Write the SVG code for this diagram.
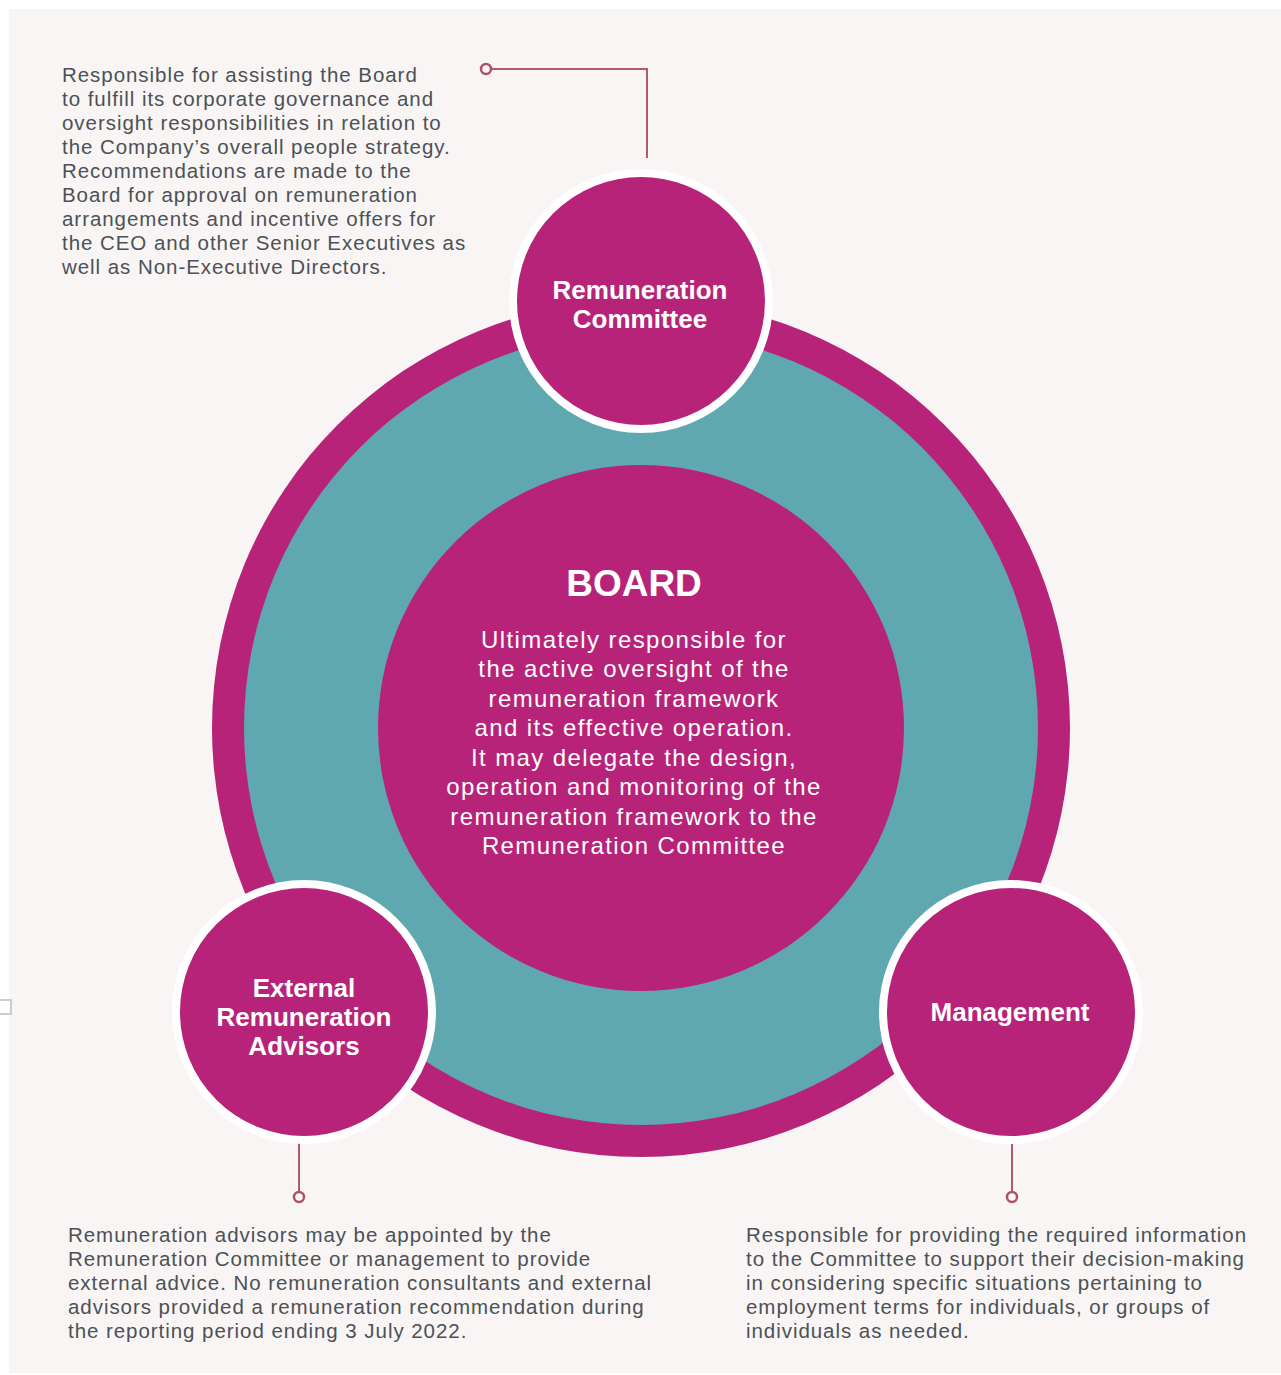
<svg xmlns="http://www.w3.org/2000/svg" width="1281" height="1375" viewBox="0 0 1281 1375">
<style>
.body{font-family:"Liberation Sans",Arial,sans-serif;font-size:20.5px;letter-spacing:0.95px;fill:#4b5157}
.board{font-family:"Liberation Sans",Arial,sans-serif;font-size:24px;letter-spacing:1.4px;fill:#ffffff;text-anchor:middle}
.title{font-family:"Liberation Sans",Arial,sans-serif;font-size:37px;font-weight:bold;fill:#ffffff;text-anchor:middle}
.lbl{font-family:"Liberation Sans",Arial,sans-serif;font-size:26px;font-weight:bold;fill:#ffffff;text-anchor:middle}
.node{fill:#b8237a;stroke:#ffffff;stroke-width:8}
.conn{fill:none;stroke:#b3596f;stroke-width:2}
.dot{fill:#f9f5f4;stroke:#ac5467;stroke-width:2.5}
</style>
<rect x="0" y="0" width="1281" height="1375" fill="#ffffff"/>
<rect x="9" y="9" width="1272" height="1364" fill="#f9f5f4"/>
<rect x="-5" y="1000" width="16" height="14" fill="none" stroke="#cccccc" stroke-width="2"/>
<g id="ring">
<circle cx="641" cy="728" r="429" fill="#b8237a"/>
<circle cx="641" cy="728" r="397" fill="#5fa8b0"/>
</g>
<g id="connectors">
<polyline class="conn" points="491,69 647,69 647,158"/>
<circle class="dot" cx="486" cy="69" r="5"/>
<line class="conn" x1="299" y1="1143" x2="299" y2="1192"/>
<circle class="dot" cx="299" cy="1197" r="5"/>
<line class="conn" x1="1012" y1="1143" x2="1012" y2="1192"/>
<circle class="dot" cx="1012" cy="1197" r="5"/>
</g>
<g id="board">
<circle cx="641" cy="728" r="263" fill="#b8237a"/>
<text class="title" x="634" y="596">BOARD</text>
<text class="board" x="634" y="648">Ultimately responsible for</text>
<text class="board" x="634" y="677">the active oversight of the</text>
<text class="board" x="634" y="707">remuneration framework</text>
<text class="board" x="634" y="736">and its effective operation.</text>
<text class="board" x="634" y="766">It may delegate the design,</text>
<text class="board" x="634" y="795">operation and monitoring of the</text>
<text class="board" x="634" y="825">remuneration framework to the</text>
<text class="board" x="634" y="854">Remuneration Committee</text>
</g>
<g id="remuneration-committee">
<circle class="node" cx="641" cy="301" r="128"/>
<text class="lbl" x="640" y="299">Remuneration</text>
<text class="lbl" x="640" y="328">Committee</text>
</g>
<g id="external-advisors">
<circle class="node" cx="304" cy="1012" r="128"/>
<text class="lbl" x="304" y="997">External</text>
<text class="lbl" x="304" y="1026">Remuneration</text>
<text class="lbl" x="304" y="1055">Advisors</text>
</g>
<g id="management">
<circle class="node" cx="1011" cy="1012" r="128"/>
<text class="lbl" x="1010" y="1021">Management</text>
</g>
<g id="note-committee">
<text class="body" x="62" y="82">Responsible for assisting the Board</text>
<text class="body" x="62" y="106">to fulfill its corporate governance and</text>
<text class="body" x="62" y="130">oversight responsibilities in relation to</text>
<text class="body" x="62" y="154">the Company’s overall people strategy.</text>
<text class="body" x="62" y="178">Recommendations are made to the</text>
<text class="body" x="62" y="202">Board for approval on remuneration</text>
<text class="body" x="62" y="226">arrangements and incentive offers for</text>
<text class="body" x="62" y="250">the CEO and other Senior Executives as</text>
<text class="body" x="62" y="274">well as Non-Executive Directors.</text>
</g>
<g id="note-advisors">
<text class="body" x="68" y="1242">Remuneration advisors may be appointed by the</text>
<text class="body" x="68" y="1266">Remuneration Committee or management to provide</text>
<text class="body" x="68" y="1290">external advice. No remuneration consultants and external</text>
<text class="body" x="68" y="1314">advisors provided a remuneration recommendation during</text>
<text class="body" x="68" y="1338">the reporting period ending 3 July 2022.</text>
</g>
<g id="note-management">
<text class="body" x="746" y="1242">Responsible for providing the required information</text>
<text class="body" x="746" y="1266">to the Committee to support their decision-making</text>
<text class="body" x="746" y="1290">in considering specific situations pertaining to</text>
<text class="body" x="746" y="1314">employment terms for individuals, or groups of</text>
<text class="body" x="746" y="1338">individuals as needed.</text>
</g>
</svg>
